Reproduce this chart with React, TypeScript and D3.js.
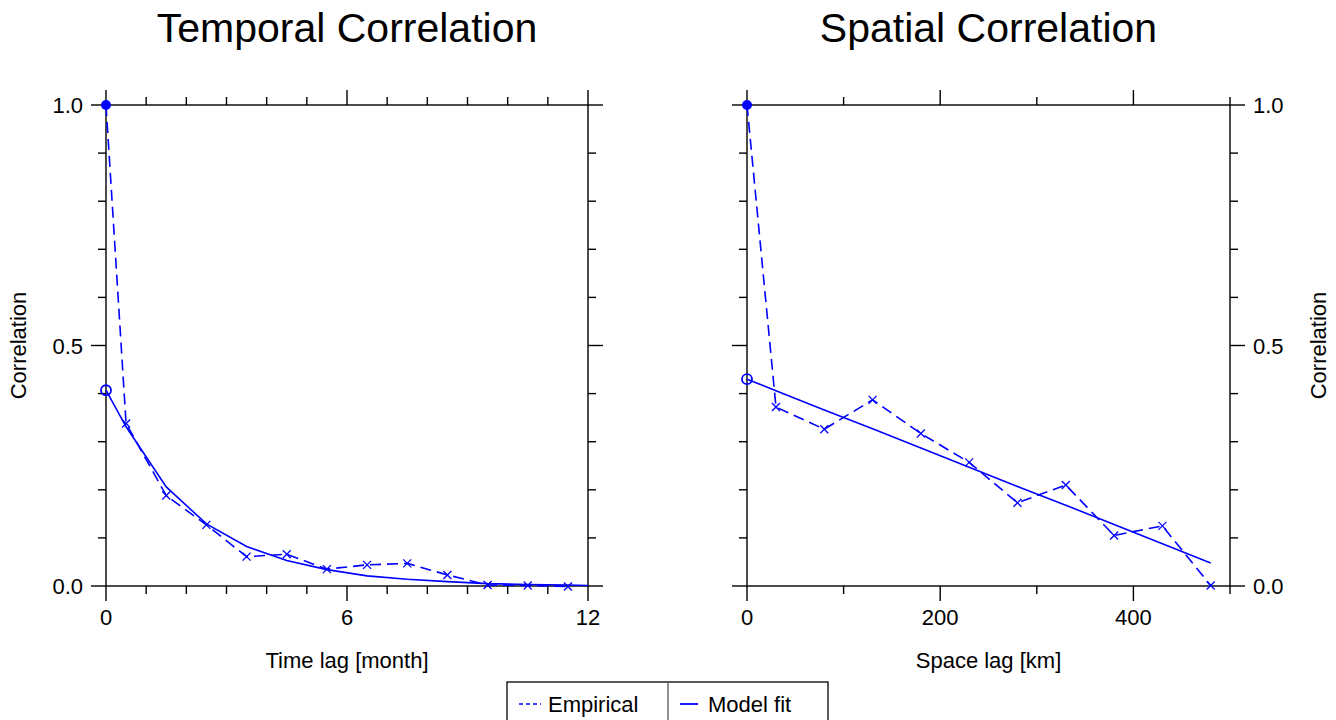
import React from "react";
import * as d3 from "d3";

// ---------- data ----------
const tempEmpX = [0, 0.5, 1.5, 2.5, 3.5, 4.5, 5.5, 6.5, 7.5, 8.5, 9.5, 10.5, 11.5];
const tempEmpY = [1.0, 0.338, 0.188, 0.127, 0.061, 0.066, 0.035, 0.044, 0.047, 0.023, 0.002, 0.001, -0.001];
const tempFitX = [0, 0.5, 1.5, 2.5, 3.5, 4.5, 5.5, 6.5, 7.5, 8.5, 9.5, 10.5, 11.5, 12];
const tempFitY = [0.407, 0.331, 0.206, 0.129, 0.082, 0.053, 0.034, 0.021, 0.014, 0.009, 0.005, 0.003, 0.002, 0.001];

const spatEmpX = [0, 30, 80, 130, 180, 230, 280, 330, 380, 430, 480];
const spatEmpY = [1.0, 0.372, 0.326, 0.387, 0.317, 0.257, 0.173, 0.21, 0.105, 0.125, 0.001];
const spatFitX = [0, 30, 80, 130, 180, 230, 280, 330, 380, 430, 480];
const spatFitY = [0.43, 0.406, 0.366, 0.327, 0.287, 0.247, 0.207, 0.168, 0.128, 0.088, 0.048];

const yMajor = [0, 0.5, 1.0];
const yMinor = [0.1, 0.2, 0.3, 0.4, 0.6, 0.7, 0.8, 0.9];
const tempMajor = [0, 6, 12];
const tempMinor = [1, 2, 3, 4, 5, 7, 8, 9, 10, 11];
const spatMajor = [0, 200, 400];
const spatMinor = [100, 300, 500];

const titles = ["Temporal Correlation", "Spatial Correlation"];
const xLabels = ["Time lag [month]", "Space lag [km]"];
const yLabel = "Correlation";
const legendLabels = ["Empirical", "Model fit"];

const BLUE = "#0000ff";
const FONT = "'Liberation Sans', Arial, Helvetica, sans-serif";
const TOP = 105;
const BOTTOM = 586;
const MAJ = 15;
const MIN = 8;
const FS = 22;

type PanelProps = {
  x0: number;
  x1: number;
  domain: [number, number];
  major: number[];
  minor: number[];
  empX: number[];
  empY: number[];
  fitX: number[];
  fitY: number[];
  title: string;
  xLabel: string;
  labelSide: "left" | "right";
};

function Panel(p: PanelProps) {
  const xs = d3.scaleLinear().domain(p.domain).range([p.x0, p.x1]);
  const ys = d3.scaleLinear().domain([0, 1]).range([BOTTOM, TOP]);
  const line = d3
    .line<[number, number]>()
    .x((d) => xs(d[0]))
    .y((d) => ys(d[1]));
  const emp: [number, number][] = p.empX.map((x, i) => [x, p.empY[i]]);
  const fit: [number, number][] = p.fitX.map((x, i) => [x, p.fitY[i]]);
  const axis = { stroke: "#000", strokeWidth: 1.4 };
  const cx = (p.x0 + p.x1) / 2;
  const cy = (TOP + BOTTOM) / 2;
  const fmt = d3.format(".1f");
  return (
    <g>
      <text x={cx} y={42} textAnchor="middle" fontSize={41} fontFamily={FONT} fill="#000">
        {p.title}
      </text>
      {/* frame */}
      <rect x={p.x0} y={TOP} width={p.x1 - p.x0} height={BOTTOM - TOP} fill="none" {...axis} />
      {/* x ticks, bottom and top, outward */}
      {p.major.map((t) => (
        <g key={"xm" + t}>
          <line x1={xs(t)} x2={xs(t)} y1={BOTTOM} y2={BOTTOM + MAJ} {...axis} />
          <line x1={xs(t)} x2={xs(t)} y1={TOP} y2={TOP - MAJ} {...axis} />
          <text x={xs(t)} y={625} textAnchor="middle" fontSize={FS} fontFamily={FONT} fill="#000">
            {t}
          </text>
        </g>
      ))}
      {p.minor.map((t) => (
        <g key={"xn" + t}>
          <line x1={xs(t)} x2={xs(t)} y1={BOTTOM} y2={BOTTOM + MIN} {...axis} />
          <line x1={xs(t)} x2={xs(t)} y1={TOP} y2={TOP - MIN} {...axis} />
        </g>
      ))}
      {/* y ticks, left and right, outward */}
      {yMajor.map((t) => (
        <g key={"ym" + t}>
          <line x1={p.x0} x2={p.x0 - MAJ} y1={ys(t)} y2={ys(t)} {...axis} />
          <line x1={p.x1} x2={p.x1 + MAJ} y1={ys(t)} y2={ys(t)} {...axis} />
          {p.labelSide === "left" ? (
            <text x={p.x0 - MAJ - 8} y={ys(t) + 8} textAnchor="end" fontSize={FS} fontFamily={FONT} fill="#000">
              {fmt(t)}
            </text>
          ) : (
            <text x={p.x1 + MAJ + 8} y={ys(t) + 8} textAnchor="start" fontSize={FS} fontFamily={FONT} fill="#000">
              {fmt(t)}
            </text>
          )}
        </g>
      ))}
      {yMinor.map((t) => (
        <g key={"yn" + t}>
          <line x1={p.x0} x2={p.x0 - MIN} y1={ys(t)} y2={ys(t)} {...axis} />
          <line x1={p.x1} x2={p.x1 + MIN} y1={ys(t)} y2={ys(t)} {...axis} />
        </g>
      ))}
      <text x={cx} y={668} textAnchor="middle" fontSize={FS} fontFamily={FONT} fill="#000">
        {p.xLabel}
      </text>
      {p.labelSide === "left" ? (
        <text
          transform={`translate(26,${cy}) rotate(-90)`}
          textAnchor="middle"
          fontSize={FS}
          fontFamily={FONT}
          fill="#000"
        >
          {yLabel}
        </text>
      ) : (
        <text
          transform={`translate(1326,${cy}) rotate(-90)`}
          textAnchor="middle"
          fontSize={FS}
          fontFamily={FONT}
          fill="#000"
        >
          {yLabel}
        </text>
      )}
      {/* data */}
      <path d={line(emp) || ""} fill="none" stroke={BLUE} strokeWidth={1.6} strokeDasharray="11,6" />
      <path d={line(fit) || ""} fill="none" stroke={BLUE} strokeWidth={1.6} />
      {emp.slice(1).map((d, i) => (
        <g key={"x" + i} stroke={BLUE} strokeWidth={1.3}>
          <line x1={xs(d[0]) - 4} x2={xs(d[0]) + 4} y1={ys(d[1]) - 4} y2={ys(d[1]) + 4} />
          <line x1={xs(d[0]) - 4} x2={xs(d[0]) + 4} y1={ys(d[1]) + 4} y2={ys(d[1]) - 4} />
        </g>
      ))}
      <circle cx={xs(emp[0][0])} cy={ys(emp[0][1])} r={5} fill={BLUE} />
      <circle cx={xs(fit[0][0])} cy={ys(fit[0][1])} r={5} fill="none" stroke={BLUE} strokeWidth={1.8} />
    </g>
  );
}

export default function App() {
  return (
    <svg
      width={1336}
      height={720}
      style={{ position: "absolute", left: 0, top: 0, background: "#fff" }}
    >
      <rect x={0} y={0} width={1336} height={720} fill="#fff" />
      <Panel
        x0={106}
        x1={588}
        domain={[0, 12]}
        major={tempMajor}
        minor={tempMinor}
        empX={tempEmpX}
        empY={tempEmpY}
        fitX={tempFitX}
        fitY={tempFitY}
        title={titles[0]}
        xLabel={xLabels[0]}
        labelSide="left"
      />
      <Panel
        x0={747}
        x1={1230}
        domain={[0, 500]}
        major={spatMajor}
        minor={spatMinor}
        empX={spatEmpX}
        empY={spatEmpY}
        fitX={spatFitX}
        fitY={spatFitY}
        title={titles[1]}
        xLabel={xLabels[1]}
        labelSide="right"
      />
      {/* legend */}
      <g>
        <rect x={507} y={682} width={321} height={44} fill="#fff" stroke="#000" strokeWidth={1.3} />
        <line x1={668} x2={668} y1={682} y2={726} stroke="#555" strokeWidth={1.3} />
        <line x1={519} x2={541} y1={704} y2={704} stroke={BLUE} strokeWidth={1.6} strokeDasharray="4,3" />
        <text x={548} y={712} fontSize={FS} fontFamily={FONT} fill="#000">
          {legendLabels[0]}
        </text>
        <line x1={680} x2={698} y1={704} y2={704} stroke={BLUE} strokeWidth={1.8} />
        <text x={708} y={712} fontSize={FS} fontFamily={FONT} fill="#000">
          {legendLabels[1]}
        </text>
      </g>
    </svg>
  );
}
